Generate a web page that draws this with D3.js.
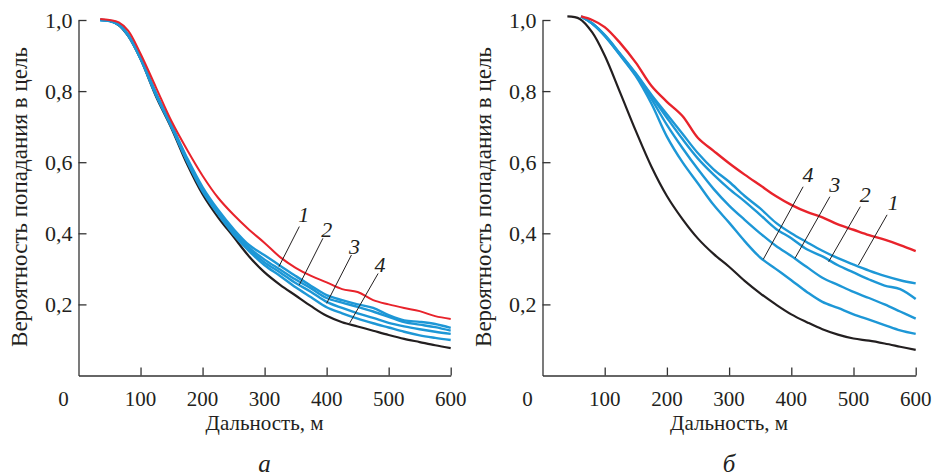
<!DOCTYPE html>
<html>
<head>
<meta charset="utf-8">
<script src="https://cdn.jsdelivr.net/npm/d3@7"></script>
</head>
<body style="margin:0">
<svg id="chart" width="938" height="476"></svg>
<script>
// ranges, m
var xLeft = [35, 50, 65, 80, 100, 125, 150, 175, 200, 225, 250, 275, 300, 325, 350, 375, 400, 425, 450, 475, 500, 525, 550, 575, 600];
var leftRed   = [1.003, 1.0, 0.993, 0.97, 0.905, 0.81, 0.715, 0.635, 0.562, 0.5, 0.452, 0.41, 0.373, 0.333, 0.303, 0.28, 0.262, 0.243, 0.235, 0.212, 0.2, 0.19, 0.181, 0.167, 0.159];
var leftBlue1 = [1.0, 0.998, 0.988, 0.96, 0.895, 0.795, 0.705, 0.612, 0.53, 0.466, 0.412, 0.367, 0.338, 0.309, 0.28, 0.252, 0.226, 0.212, 0.2, 0.19, 0.17, 0.155, 0.151, 0.145, 0.134];
var leftBlue2 = [1.0, 0.998, 0.987, 0.958, 0.893, 0.792, 0.703, 0.608, 0.526, 0.462, 0.407, 0.36, 0.326, 0.298, 0.27, 0.245, 0.218, 0.205, 0.193, 0.18, 0.165, 0.15, 0.143, 0.136, 0.126];
var leftBlue3 = [1.0, 0.998, 0.987, 0.957, 0.892, 0.79, 0.7, 0.605, 0.522, 0.458, 0.402, 0.355, 0.318, 0.29, 0.26, 0.235, 0.207, 0.19, 0.175, 0.162, 0.148, 0.138, 0.13, 0.123, 0.117];
var leftBlue4 = [1.0, 0.997, 0.986, 0.956, 0.891, 0.788, 0.698, 0.602, 0.518, 0.454, 0.397, 0.35, 0.31, 0.28, 0.248, 0.22, 0.192, 0.175, 0.16, 0.147, 0.135, 0.123, 0.113, 0.106, 0.1];
var leftBlack = [1.0, 0.998, 0.985, 0.955, 0.89, 0.785, 0.695, 0.595, 0.51, 0.445, 0.39, 0.335, 0.29, 0.255, 0.225, 0.195, 0.168, 0.15, 0.138, 0.126, 0.114, 0.103, 0.094, 0.085, 0.077];

var xRight = [62, 80, 100, 125, 150, 175, 200, 225, 250, 275, 300, 325, 350, 375, 400, 425, 450, 475, 500, 525, 550, 575, 600];
var xRightBlack = [40, 60, 80, 100, 125, 150, 175, 200, 225, 250, 275, 300, 325, 350, 375, 400, 425, 450, 475, 500, 525, 550, 575, 600];
var rightRed   = [1.01, 1.0, 0.98, 0.935, 0.88, 0.815, 0.77, 0.73, 0.668, 0.632, 0.597, 0.565, 0.535, 0.505, 0.48, 0.46, 0.445, 0.425, 0.41, 0.395, 0.382, 0.367, 0.35];
var rightBlue1 = [1.01, 0.99, 0.958, 0.905, 0.85, 0.79, 0.735, 0.68, 0.625, 0.58, 0.545, 0.505, 0.47, 0.43, 0.40, 0.375, 0.351, 0.33, 0.312, 0.295, 0.28, 0.268, 0.259];
var rightBlue2 = [1.01, 0.99, 0.957, 0.903, 0.848, 0.787, 0.725, 0.665, 0.61, 0.565, 0.525, 0.49, 0.452, 0.413, 0.386, 0.355, 0.335, 0.31, 0.29, 0.27, 0.253, 0.243, 0.215];
var rightBlue3 = [1.01, 0.99, 0.956, 0.902, 0.845, 0.778, 0.705, 0.64, 0.58, 0.525, 0.478, 0.438, 0.4, 0.365, 0.336, 0.305, 0.275, 0.255, 0.235, 0.218, 0.2, 0.18, 0.16];
var rightBlue4 = [1.01, 0.99, 0.955, 0.9, 0.842, 0.765, 0.672, 0.6, 0.54, 0.48, 0.43, 0.378, 0.332, 0.3, 0.268, 0.235, 0.207, 0.19, 0.172, 0.157, 0.142, 0.127, 0.117];
var rightBlack = [1.01, 1.003, 0.965, 0.9, 0.795, 0.688, 0.588, 0.505, 0.44, 0.385, 0.342, 0.306, 0.266, 0.231, 0.2, 0.172, 0.15, 0.13, 0.115, 0.104, 0.098, 0.09, 0.081, 0.072];

var xTicks = [100, 200, 300, 400, 500, 600];
var yTicks = [0.2, 0.4, 0.6, 0.8, 1.0];

// curve labels: [text, text x, text y, leader from x,y, leader to x,y] in data units
var leftLabels = [
  ["1", 363, 0.451, 356, 0.419, 323, 0.306],
  ["2", 400, 0.409, 394, 0.386, 356, 0.255],
  ["3", 445, 0.362, 440, 0.339, 400, 0.203],
  ["4", 486, 0.311, 483, 0.287, 437, 0.147]
];
var rightLabels = [
  ["4", 427, 0.564, 419, 0.531, 355, 0.327],
  ["3", 470, 0.536, 462, 0.503, 406, 0.33],
  ["2", 519, 0.508, 511, 0.475, 460, 0.32],
  ["1", 564, 0.485, 554, 0.452, 508, 0.311]
];

var RED = "#e8232b", BLUE = "#1d97d6", BLACK = "#231f20";

var svg = d3.select("#chart");

var y = d3.scaleLinear().domain([0, 1]).range([375.5, 20]);

var texts = [];

drawPanel = (x0, x1, series, labels, letter) => {
  var x = d3.scaleLinear().domain([0, 600]).range([x0, x1]);
  var g = svg.append("g");

  var xAxis = g.append("g")
    .attr("transform", `translate(0, ${y(0)})`)
    .call(d3.axisBottom(x).tickValues(xTicks).tickSize(-8).tickSizeOuter(0).tickFormat(""));
  var yAxis = g.append("g")
    .attr("transform", `translate(${x(0)}, 0)`)
    .call(d3.axisLeft(y).tickValues(yTicks).tickSize(-8).tickSizeOuter(0).tickFormat(""));

  [xAxis, yAxis].forEach(a => {
    a.selectAll("path, line").attr("stroke", "#333").attr("stroke-width", 1.3);
  });

  var line = d3.line()
    .x(d => x(d[0]))
    .y(d => y(d[1]))
    .curve(d3.curveCatmullRom.alpha(0.5));

  series.forEach(s => {
    g.append("path")
      .attr("d", line(d3.zip(s.x, s.v)))
      .attr("fill", "none")
      .attr("stroke", s.color)
      .attr("stroke-width", s.w)
      .attr("stroke-linejoin", "round");
  });

  labels.forEach(l => {
    g.append("line")
      .attr("x1", x(l[3])).attr("y1", y(l[4]))
      .attr("x2", x(l[5])).attr("y2", y(l[6]))
      .attr("stroke", BLACK).attr("stroke-width", 1);
    texts.push({t: l[0], x: x(l[1]), y: y(l[2]) + 7, size: 22, it: true});
  });

  xTicks.forEach(t => texts.push({t: String(t), x: x(t), y: y(0) + 30.5, size: 21}));
  yTicks.forEach(t => texts.push({t: d3.format(".1f")(t).replace(".", ","), x: x(0) - 6, y: y(t) + 7.5, size: 22, anchor: "end"}));
  texts.push({t: "0", x: x(0) - 15, y: y(0) + 30.5, size: 21});
  texts.push({t: "Дальность, м", x: x(300), y: y(0) + 54, size: 21});
  texts.push({t: "Вероятность попадания в цель", x: x0 - 52, y: 197, size: 23, rot: true});
  texts.push({t: letter, x: x(300), y: 472, size: 25, it: true});
}

drawPanel(78.5, 450.7, [
  {x: xLeft, v: leftBlack, color: BLACK, w: 2.2},
  {x: xLeft, v: leftBlue4, color: BLUE, w: 2.4},
  {x: xLeft, v: leftBlue3, color: BLUE, w: 2.4},
  {x: xLeft, v: leftBlue2, color: BLUE, w: 2.4},
  {x: xLeft, v: leftBlue1, color: BLUE, w: 2.4},
  {x: xLeft, v: leftRed, color: RED, w: 2}
], leftLabels, "а");

drawPanel(542.5, 915.7, [
  {x: xRightBlack, v: rightBlack, color: BLACK, w: 2.2},
  {x: xRight, v: rightBlue4, color: BLUE, w: 2.4},
  {x: xRight, v: rightBlue3, color: BLUE, w: 2.4},
  {x: xRight, v: rightBlue2, color: BLUE, w: 2.4},
  {x: xRight, v: rightBlue1, color: BLUE, w: 2.4},
  {x: xRight, v: rightRed, color: RED, w: 2.4}
], rightLabels, "б");

// all text as direct children of the svg, serif face set per element
svg.selectAll("text.lbl").data(texts).join("text")
  .attr("class", "lbl")
  .attr("x", d => d.rot ? 0 : d.x)
  .attr("y", d => d.rot ? 0 : d.y)
  .attr("transform", d => d.rot ? `translate(${d.x},${d.y}) rotate(-90)` : null)
  .attr("text-anchor", d => d.anchor || "middle")
  .attr("font-size", d => d.size)
  .attr("fill", BLACK)
  .style("font-family", '"Liberation Serif", Tinos, "Times New Roman", FreeSerif, Georgia')
  .style("font-style", d => d.it ? "italic" : "normal")
  .text(d => d.t);
</script>
</body>
</html>
